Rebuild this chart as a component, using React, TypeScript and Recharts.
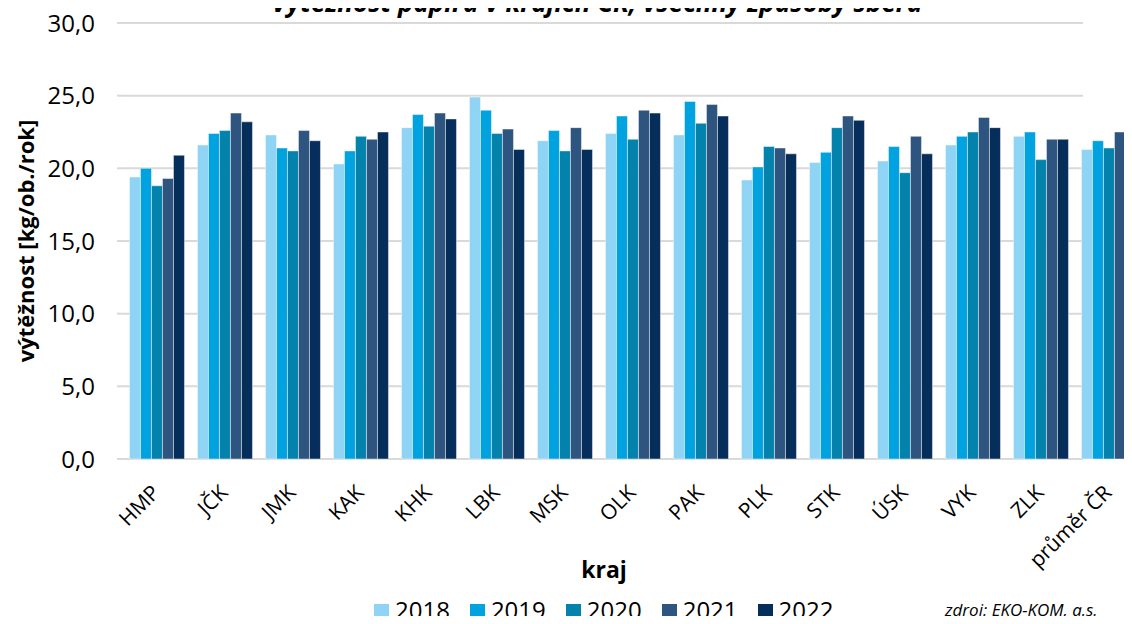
import React from "react";
import { BarChart, Bar, XAxis, YAxis, CartesianGrid } from "recharts";

// kraje + průměr
const kraje = ["HMP", "JČK", "JMK", "KAK", "KHK", "LBK", "MSK", "OLK", "PAK", "PLK", "STK", "ÚSK", "VYK", "ZLK", "průměr ČR"];

const v2018 = [19.4, 21.6, 22.3, 20.3, 22.8, 24.9, 21.9, 22.4, 22.3, 19.2, 20.4, 20.5, 21.6, 22.2, 21.3];
const v2019 = [20.0, 22.4, 21.4, 21.2, 23.7, 24.0, 22.6, 23.6, 24.6, 20.1, 21.1, 21.5, 22.2, 22.5, 21.9];
const v2020 = [18.8, 22.6, 21.2, 22.2, 22.9, 22.4, 21.2, 22.0, 23.1, 21.5, 22.8, 19.7, 22.5, 20.6, 21.4];
const v2021 = [19.3, 23.8, 22.6, 22.0, 23.8, 22.7, 22.8, 24.0, 24.4, 21.4, 23.6, 22.2, 23.5, 22.0, 22.5];
const v2022 = [20.9, 23.2, 21.9, 22.5, 23.4, 21.3, 21.3, 23.8, 23.6, 21.0, 23.3, 21.0, 22.8, 22.0, 22.2];

const roky = ["2018", "2019", "2020", "2021", "2022"];
const barvy = ["#8FD4F5", "#00A3E0", "#0383AB", "#2E5480", "#062E5A"];
const yTicks = [0, 5, 10, 15, 20, 25, 30];

const data = kraje.map((k, i) => ({
  kraj: k,
  "2018": v2018[i],
  "2019": v2019[i],
  "2020": v2020[i],
  "2021": v2021[i],
  "2022": v2022[i],
}));

const font = "'Open Sans', sans-serif";

const KrajTick = (props: any) => {
  const { x, payload } = props;
  return (
    <g transform={`translate(${x + 5},494)`}>
      <text transform="rotate(-45)" textAnchor="end" fontSize={21} fill="#000" fontFamily={font}>
        {payload.value}
      </text>
    </g>
  );
};

const fmt = (v: number) => v.toFixed(1).replace(".", ",");

export default function App() {
  return (
    <div style={{ position: "relative", margin: -8, width: 1132, height: 624, overflow: "hidden", background: "#fff" }}>
      <BarChart
        width={1160}
        height={624}
        data={data}
        margin={{ top: 23, right: 18, bottom: 0, left: 0 }}
        barCategoryGap="11%"
        barGap={0}
        style={{ position: "absolute", top: 0, left: 0 }}
      >
        <text
          x={597}
          y={12}
          textAnchor="middle"
          fontFamily={font}
          fontWeight={700}
          fontStyle="italic"
          fontSize={26}
          fill="#000"
        >
          Výtěžnost papíru v krajích ČR; všechny způsoby sběru
        </text>
        <CartesianGrid vertical={false} stroke="#d9d9d9" strokeWidth={2} width={961} />
        <XAxis
          dataKey="kraj"
          height={165}
          axisLine={false}
          tickLine={false}
          interval={0}
          tick={<KrajTick />}
          label={{ value: "kraj", position: "insideBottom", offset: 46, dx: -28, fontSize: 23, fontWeight: 700, fill: "#000", fontFamily: font }}
        />
        <YAxis
          width={122}
          domain={[0, 30]}
          ticks={yTicks}
          tickFormatter={fmt}
          axisLine={false}
          tickSize={5}
          tickMargin={22}
          tickLine={{ stroke: "#d9d9d9", strokeWidth: 2 }}
          tick={{ fontSize: 24, fill: "#000", fontFamily: font }}
          label={{
            value: "výtěžnost [kg/ob./rok]",
            angle: -90,
            position: "insideLeft",
            offset: 26,
            style: { textAnchor: "middle", fontSize: 22, fontWeight: 700, fill: "#000", fontFamily: font },
          }}
        />
        {roky.map((r, i) => (
          <Bar key={r} dataKey={r} fill={barvy[i]} stroke="rgba(255,255,255,0.45)" strokeWidth={1} isAnimationActive={false} />
        ))}
      </BarChart>
      <div
        style={{
          position: "absolute",
          top: 598,
          left: 374,
          display: "flex",
          alignItems: "center",
          fontFamily: font,
          fontSize: 24,
          lineHeight: "24px",
          color: "#000",
        }}
      >
        {roky.map((r, i) => (
          <div key={r} style={{ display: "flex", alignItems: "center", marginRight: 20 }}>
            <span style={{ display: "inline-block", width: 15, height: 15, background: barvy[i], marginRight: 6, marginTop: 2 }} />
            <span>{r}</span>
          </div>
        ))}
      </div>
      <div
        style={{
          position: "absolute",
          top: 601,
          left: 945,
          fontFamily: font,
          fontStyle: "italic",
          fontSize: 17,
          lineHeight: "17px",
          color: "#000",
          whiteSpace: "nowrap",
        }}
      >
        zdroj: EKO-KOM, a.s.
      </div>
    </div>
  );
}
